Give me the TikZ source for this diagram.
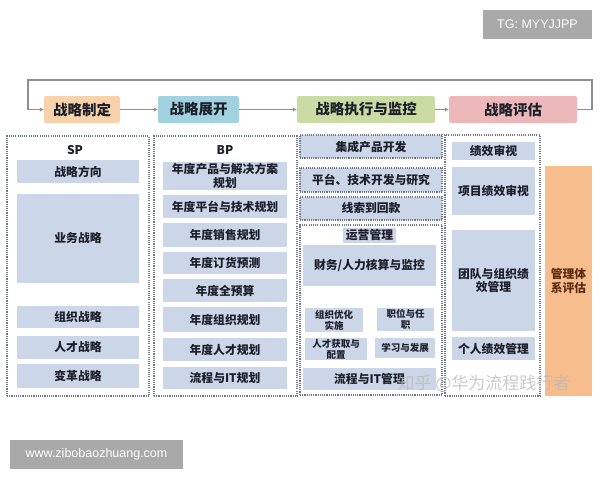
\documentclass[tikz,border=0pt]{standalone}
\usepackage{fontspec}
\setmainfont{Noto Sans CJK SC}
\newfontfamily\lat{Liberation Sans}
\usetikzlibrary{arrows.meta}
\definecolor{subblue}{HTML}{CBD7E9}
\definecolor{txt}{HTML}{1C1F2A}
\definecolor{dotc}{HTML}{6E7888}
\definecolor{arrc}{HTML}{8F8F8F}
\definecolor{hA}{HTML}{F8D2AA}
\definecolor{hB}{HTML}{A2D1DF}
\definecolor{hC}{HTML}{CADCA4}
\definecolor{hD}{HTML}{EDB8BA}
\definecolor{orng}{HTML}{F7BD8C}
\definecolor{brwn}{HTML}{5A2C10}
\definecolor{tagg}{HTML}{A9A9A9}
\newcommand\rbox[7]{\node[#1,minimum width={#5-#3},minimum height={#6-#4}] (#2) at ({(#3+#5)/2},{(#4+#6)/2}) {#7};}
\begin{document}
\begin{tikzpicture}[x=1pt,y=-1pt,
  sub/.style={fill=subblue,inner sep=0pt,align=center,text=txt,font=\bfseries\fontsize{11.8}{13.5}\selectfont},
  smallsub/.style={sub,font=\bfseries\fontsize{9.5}{11}\selectfont},
  dsub/.style={sub,draw=dotc,line width=1.2pt,dash pattern=on 1.1pt off 1.1pt},
  hdr/.style={rounded corners=2pt,inner sep=0pt,text=txt,font=\bfseries\fontsize{14.5}{16}\selectfont},
  colframe/.style={draw=dotc,line width=1.2pt,dash pattern=on 1.1pt off 1.1pt,inner sep=0pt},
  flow/.style={draw=arrc,line width=1.3pt,-{Latex[length=4pt,width=4.5pt]}},
  ttl/.style={font=\bfseries\fontsize{12}{13}\selectfont,text=txt,inner sep=0pt},
  tag/.style={fill=tagg,text=white,inner sep=0pt,font=\lat\fontsize{12.5}{14}\selectfont}]
\useasboundingbox[fill=white] (0,0) rectangle (600,480);

% tag boxes
\rbox{tag}{tg}{483}{10}{592}{39}{TG: MYYJJPP}
\rbox{tag}{www}{10}{440}{183}{469}{www.zibobaozhuang.com}

% header row
\rbox{hdr,fill=hA}{h1}{44}{96}{120}{123}{战略制定}
\rbox{hdr,fill=hB}{h2}{158}{96}{239}{123}{战略展开}
\rbox{hdr,fill=hC}{h3}{297}{96}{435}{123}{战略执行与监控}
\rbox{hdr,fill=hD}{h4}{449}{96}{577}{123}{战略评估}
\coordinate (lr) at (592,80);
\coordinate (ll) at (28,80);
\draw[flow] (h1) -- (h2);
\draw[flow] (h2) -- (h3);
\draw[flow] (h3) -- (h4);
\draw[flow] (h4.east) -- (h4.east -| lr) -- (lr) -- (ll) -- (ll |- h1.west) -- (h1.west);

% column 1
\rbox{colframe}{f1}{7}{136}{149}{396}{}
\node[ttl] (sp) at (75,150) {SP};
\rbox{sub}{a1}{17}{160}{139}{183}{战略方向}
\rbox{sub}{a2}{17}{194}{139}{283}{业务战略}
\rbox{sub}{a3}{17}{306}{139}{328}{组织战略}
\rbox{sub}{a4}{17}{336}{139}{359}{人才战略}
\rbox{sub}{a5}{17}{364}{139}{388}{变革战略}

% column 2
\rbox{colframe}{f2}{154}{136}{297}{396}{}
\node[ttl] (bp) at (225,150) {BP};
\rbox{sub}{b1}{163}{162}{287}{190}{年度产品与解决方案\\规划}
\rbox{sub}{b2}{163}{195}{287}{218}{年度平台与技术规划}
\rbox{sub}{b3}{163}{223}{287}{247}{年度销售规划}
\rbox{sub}{b4}{163}{252}{287}{274}{年度订货预测}
\rbox{sub}{b5}{163}{279}{287}{302}{年度全预算}
\rbox{sub}{b6}{163}{307}{287}{332}{年度组织规划}
\rbox{sub}{b7}{163}{338}{287}{361}{年度人才规划}
\rbox{sub}{b8}{163}{367}{287}{389}{流程与IT规划}

% column 3
\rbox{dsub}{c1}{300}{135}{442}{158}{集成产品开发}
\rbox{dsub}{c2}{300}{168}{442}{192}{平台、技术开发与研究}
\rbox{dsub}{c3}{300}{197}{442}{220}{线索到回款}
\rbox{colframe}{f3}{300}{225}{442}{395}{}
\rbox{sub}{ops}{343}{228}{396}{243}{运营管理}
\rbox{sub}{c4}{303}{245}{436}{286}{财务/人力核算与监控}
\rbox{smallsub}{c5}{305}{308}{363}{332}{组织优化\\实施}
\rbox{smallsub}{c6}{377}{308}{434}{331}{职位与任\\职}
\rbox{smallsub}{c7}{305}{338}{367}{360}{人才获取与\\配置}
\rbox{smallsub}{c8}{375}{338}{435}{358}{学习与发展}
\rbox{sub}{c9}{303}{368}{436}{390}{流程与IT管理}

% column 4
\rbox{colframe}{f4}{445}{135}{540}{396}{}
\rbox{sub}{e1}{452}{142}{535}{160}{绩效审视}
\rbox{sub}{e2}{452}{167}{535}{215}{项目绩效审视}
\rbox{sub}{e3}{452}{230}{535}{331}{团队与组织绩\\效管理}
\rbox{sub}{e4}{452}{337}{535}{360}{个人绩效管理}
\rbox{sub,fill=orng,text=brwn}{g1}{545}{166}{592}{396}{管理体\\系评估}

% watermark
\node[text=gray!55,opacity=0.75,inner sep=0pt,font=\fontsize{17}{19}\selectfont] (wm) at (484,384) {知乎 @华为流程践行者};
\end{tikzpicture}
\end{document}
